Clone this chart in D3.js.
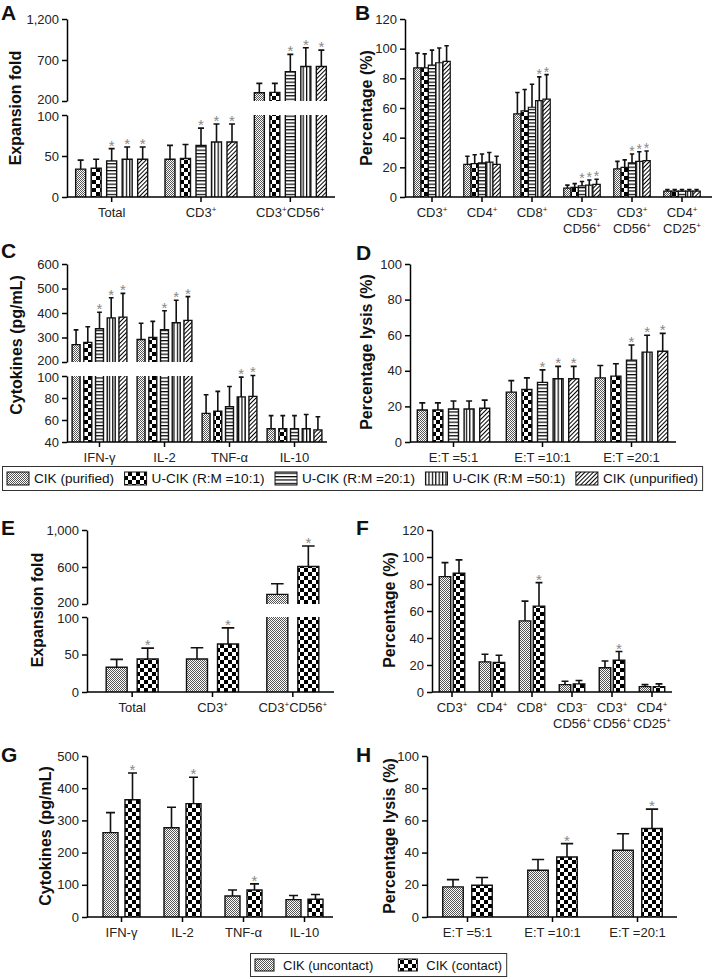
<!DOCTYPE html>
<html><head><meta charset="utf-8">
<script src="https://cdn.jsdelivr.net/npm/d3@7"></script>
<style>
body{margin:0;background:#fff;}
svg text{font-family:"Liberation Sans",Arial,Helvetica,sans-serif;}
</style></head><body>
<svg id="chart" width="713" height="979"></svg>
<script>
// ---------------- DATA ----------------
const topSeries = ["CIK (purified)", "U-CIK (R:M =10:1)", "U-CIK (R:M =20:1)", "U-CIK (R:M =50:1)", "CIK (unpurified)"];
const bottomSeries = ["CIK (uncontact)", "CIK (contact)"];

// Panel A – expansion fold
const catsA = ["Total", "CD3⁺", "CD3⁺CD56⁺"];
const meanA = [[34, 35, 44, 46, 46], [46, 47, 63, 67, 67], [300, 305, 558, 620, 620]];
const sdA   = [[11, 11, 15, 15, 15], [17, 17, 21, 22, 22], [115, 110, 210, 230, 200]];
const sigA  = [[0, 0, 1, 1, 1], [0, 0, 1, 1, 1], [0, 0, 1, 1, 1]];
const ticksA_low = [0, 50, 100], ticksA_high = [200, 700, 1200];

// Panel B – percentage
const catsB = [["CD3⁺"], ["CD4⁺"], ["CD8⁺"], ["CD3⁻", "CD56⁺"], ["CD3⁺", "CD56⁺"], ["CD4⁺", "CD25⁺"]];
const meanB = [[87, 87, 89, 90.5, 91.5], [22, 22.5, 23, 23.5, 22], [56, 58, 60.5, 65, 66], [6, 6.5, 7.5, 8, 8.5], [19, 20, 23, 24, 24.5], [4, 4, 4, 4, 4]];
const sdB   = [[10, 9.5, 10, 10, 10.5], [5.5, 6, 6, 6.5, 5.5], [14.5, 14.5, 15.5, 16, 16.5], [2, 2.5, 3, 3.5, 3.5], [5, 5, 6, 6.5, 6.5], [1, 1, 1, 1, 1]];
const sigB  = [[0, 0, 0, 0, 0], [0, 0, 0, 0, 0], [0, 0, 0, 1, 1], [0, 0, 1, 1, 1], [0, 0, 1, 1, 1], [0, 0, 0, 0, 0]];
const ticksB = [0, 20, 40, 60, 80, 100, 120];

// Panel C – cytokines
const catsC = ["IFN-γ", "IL-2", "TNF-α", "IL-10"];
const meanC = [[271, 280, 336, 380, 383], [292, 300, 332, 360, 370], [66, 68, 72, 81, 81.5], [52, 52, 52, 52, 51]];
const sdC   = [[60, 64, 67, 82, 97], [66, 66, 77, 92, 97], [17, 18, 18.5, 18, 19], [12, 12, 12, 13, 12]];
const sigC  = [[0, 0, 1, 1, 1], [0, 0, 1, 1, 1], [0, 0, 0, 1, 1], [0, 0, 0, 0, 0]];
const ticksC_low = [40, 60, 80, 100], ticksC_high = [200, 300, 400, 500, 600];

// Panel D – lysis
const catsD = ["E:T =5:1", "E:T =10:1", "E:T =20:1"];
const meanD = [[18, 18, 18.5, 18.5, 19], [28, 29.5, 33.5, 35.5, 35.5], [36, 37, 46, 50.5, 51]];
const sdD   = [[4, 4, 4.5, 4.5, 4.5], [6.5, 6.5, 7, 7, 7], [7, 7, 8.5, 9.5, 10]];
const sigD  = [[0, 0, 0, 0, 0], [0, 0, 1, 1, 1], [0, 0, 1, 1, 1]];
const ticksD = [0, 20, 40, 60, 80, 100];

// Panel E – expansion fold (contact)
const catsE = ["Total", "CD3⁺", "CD3⁺CD56⁺"];
const meanE = [[33, 44], [44, 64], [304, 605]];
const sdE   = [[10.5, 14.5], [15, 21.5], [115, 222]];
const sigE  = [[0, 1], [0, 1], [0, 1]];
const ticksE_low = [0, 50, 100], ticksE_high = [200, 600, 1000];

// Panel F – percentage (contact)
const catsF = [["CD3⁺"], ["CD4⁺"], ["CD8⁺"], ["CD3⁻", "CD56⁺"], ["CD3⁺", "CD56⁺"], ["CD4⁺", "CD25⁺"]];
const meanF = [[85.5, 88], [22.3, 21.8], [52.7, 63.6], [5.5, 6], [18, 23.5], [4, 4]];
const sdF   = [[10.3, 9.9], [5.7, 5.4], [14.6, 17.4], [2.5, 2.5], [5, 6.5], [1.5, 2]];
const sigF  = [[0, 0], [0, 0], [0, 1], [0, 0], [0, 1], [0, 0]];
const ticksF = [0, 20, 40, 60, 80, 100, 120];

// Panel G – cytokines (contact)
const catsG = ["IFN-γ", "IL-2", "TNF-α", "IL-10"];
const meanG = [[262, 364], [277, 352], [65, 84], [54, 55]];
const sdG   = [[62, 83], [64, 82], [19, 19], [13, 15]];
const sigG  = [[0, 1], [0, 1], [0, 1], [0, 0]];
const ticksG = [0, 100, 200, 300, 400, 500];

// Panel H – lysis (contact)
const catsH = ["E:T =5:1", "E:T =10:1", "E:T =20:1"];
const meanH = [[18.7, 19.7], [29, 37.3], [41.5, 55]];
const sdH   = [[4.5, 4.8], [6.7, 8.3], [10.2, 12]];
const sigH  = [[0, 0], [0, 1], [0, 1]];
const ticksH = [0, 20, 40, 60, 80, 100];

// ---------------- STYLE ----------------
const topPatterns = ["pFine", "pCheck", "pHoriz", "pVert", "pDiag"];
const bottomPatterns = ["pFine", "pCheck"];

const svg = d3.select("#chart");
const defs = svg.append("defs");

function makePattern(id, w, h, rects, transform) {
  const p = defs.append("pattern").attr("id", id).attr("patternUnits", "userSpaceOnUse")
    .attr("width", w).attr("height", h);
  if (transform) p.attr("patternTransform", transform);
  p.append("rect").attr("width", w).attr("height", h).attr("fill", "#fff");
  rects.forEach(r => p.append("rect").attr("x", r[0]).attr("y", r[1]).attr("width", r[2]).attr("height", r[3]).attr("fill", r[4] || "#000"));
}
makePattern("pFine", 2, 2, [[0, 0, 1, 1, "#555"], [1, 1, 1, 1, "#555"]]);
makePattern("pCheck", 8, 8, [[0, 0, 4, 4], [4, 4, 4, 4]]);
makePattern("pHoriz", 4, 3.4, [[0, 0, 4, 1.2]]);
makePattern("pVert", 3.4, 4, [[0, 0, 1.2, 4]]);
makePattern("pDiag", 3, 3, [[0, 0, 1, 3]], "rotate(45)");

function richText(sel, str, fs) {
  const parts = str.split(/([⁺⁻])/);
  let raised = false;
  parts.forEach(p => {
    if (!p) return;
    if (p === "⁺" || p === "⁻") {
      sel.append("tspan").attr("font-size", fs * 0.62).attr("dy", raised ? 0 : -fs * 0.42).text(p === "⁺" ? "+" : "−");
      raised = true;
    } else {
      sel.append("tspan").attr("dy", raised ? fs * 0.42 : 0).text(p);
      raised = false;
    }
  });
}

function styleAxis(g) {
  g.selectAll("path, line").attr("stroke", "#000").attr("stroke-width", 1.5);
  g.selectAll("text").attr("font-size", 13).attr("fill", "#222")
    .attr("font-family", '"Liberation Sans",Arial,sans-serif');
}

function drawPanel(c) {
  const g = svg.append("g");
  const n = c.mean[0].length;
  const x = d3.scaleBand().domain(d3.range(c.cats.length)).range(c.band);
  const xi = d3.scaleBand().domain(d3.range(n)).range([-c.span / 2, c.span / 2]).paddingInner(c.pad);
  const segs = c.segs.map(s => ({ d: s.d, ticks: s.ticks, y: d3.scaleLinear().domain(s.d).range(s.r) }));
  const bw = xi.bandwidth();

  // bars
  c.mean.forEach((row, gi) => row.forEach((v, si) => {
    const bx = x(gi) + x.bandwidth() / 2 + xi(si);
    segs.forEach(s => {
      if (v <= s.d[0]) return;
      const y0 = s.y(s.d[0]);
      const top = s.y(Math.min(v, s.d[1]));
      g.append("rect").attr("x", bx).attr("y", top).attr("width", bw).attr("height", y0 - top)
        .attr("fill", `url(#${c.pats[si]})`);
      const closed = v <= s.d[1];
      const d = closed
        ? `M${bx},${y0}V${top}H${bx + bw}V${y0}`
        : `M${bx},${y0}V${top}M${bx + bw},${top}V${y0}`;
      g.append("path").attr("d", d).attr("fill", "none").attr("stroke", "#111").attr("stroke-width", c.bstroke || 1.4);
    });
    // error bar
    const seg = segs.find(s => v >= s.d[0] && v <= s.d[1]) || segs[segs.length - 1];
    const cx = bx + bw / 2;
    const yv = seg.y(v), ye = seg.y(v + c.sd[gi][si]);
    const cw = Math.max(4, bw * 0.6);
    g.append("path").attr("d", `M${cx},${yv}V${ye}M${cx - cw / 2},${ye}H${cx + cw / 2}`)
      .attr("stroke", "#111").attr("stroke-width", 1.6).attr("fill", "none");
    if (c.sig[gi][si]) {
      g.append("text").attr("x", cx).attr("y", ye + 2).attr("text-anchor", "middle")
        .attr("font-size", c.astSize || 15).attr("fill", "#888").text("*");
    }
  }));

  // y axes
  segs.forEach((s, k) => {
    const ax = d3.axisLeft(s.y).tickValues(s.ticks).tickFormat(d3.format(",")).tickSize(5).tickSizeOuter(0).tickPadding(3);
    const ga = g.append("g").attr("transform", `translate(${c.ax},0)`).call(ax);
    styleAxis(ga);
    if (segs.length > 1) {
      const edge = k === 0 ? s.d[1] : s.d[0];
      ga.selectAll(".tick").filter(d => d === edge).select("text")
        .attr("transform", `translate(0,${k === 0 ? 1.2 : -1.2})`);
    }
  });
  // x axis
  const xa = d3.axisBottom(x).tickSize(5).tickSizeOuter(0).tickFormat("");
  const gx = g.append("g").attr("transform", `translate(0,${c.y0})`).call(xa);
  gx.select(".domain").attr("d", `M${c.ax},0H${c.axEnd}`);
  styleAxis(gx);
  c.cats.forEach((lab, gi) => {
    const lines = Array.isArray(lab) ? lab : [lab];
    lines.forEach((ln, li) => {
      const t = g.append("text").attr("x", x(gi) + x.bandwidth() / 2).attr("y", c.y0 + 20 + li * 16)
        .attr("text-anchor", "middle").attr("font-size", 13).attr("fill", "#222");
      richText(t, ln, 13);
    });
  });
  // y title
  g.append("text").attr("transform", `translate(${c.tx},${c.ty}) rotate(-90)`).attr("text-anchor", "middle")
    .attr("font-size", 16).attr("font-weight", "bold").attr("fill", "#111").text(c.title);
  // letter
  g.append("text").attr("x", c.lx).attr("y", c.ly).attr("font-size", 21).attr("font-weight", "bold")
    .attr("fill", "#111").text(c.letter);
}

drawPanel({ letter: "A", lx: 1, ly: 20, title: "Expansion fold", tx: 21, ty: 108,
  cats: catsA, mean: meanA, sd: sdA, sig: sigA, pats: topPatterns,
  band: [67, 335], ax: 67, axEnd: 335, y0: 197, span: 72, pad: 0.355,
  segs: [{ d: [0, 100], r: [197, 115], ticks: ticksA_low }, { d: [200, 1200], r: [101, 19], ticks: ticksA_high }] });

drawPanel({ letter: "B", lx: 355, ly: 20, title: "Percentage (%)", tx: 372, ty: 108,
  cats: catsB, mean: meanB, sd: sdB, sig: sigB, pats: topPatterns, bstroke: 1.2, astSize: 14,
  band: [407, 707], ax: 405, axEnd: 712, y0: 197, span: 36.5, pad: 0,
  segs: [{ d: [0, 120], r: [197, 19], ticks: ticksB }] });

drawPanel({ letter: "C", lx: 1, ly: 258, title: "Cytokines (pg/mL)", tx: 22, ty: 345,
  cats: catsC, mean: meanC, sd: sdC, sig: sigC, pats: topPatterns,
  band: [67, 327], ax: 67, axEnd: 327, y0: 442, span: 54.8, pad: 0.32,
  segs: [{ d: [40, 100], r: [442, 376], ticks: ticksC_low }, { d: [200, 600], r: [362, 264], ticks: ticksC_high }] });

drawPanel({ letter: "D", lx: 356, ly: 260, title: "Percentage lysis (%)", tx: 372, ty: 352,
  cats: catsD, mean: meanD, sd: sdD, sig: sigD, pats: topPatterns,
  band: [409, 676], ax: 410, axEnd: 676, y0: 442, span: 72.4, pad: 0.36,
  segs: [{ d: [0, 100], r: [442, 264], ticks: ticksD }] });

drawPanel({ letter: "E", lx: 1, ly: 535, title: "Expansion fold", tx: 43, ty: 610,
  cats: catsE, mean: meanE, sd: sdE, sig: sigE, pats: bottomPatterns,
  band: [92, 333], ax: 87, axEnd: 334, y0: 692, span: 52, pad: 0.323,
  segs: [{ d: [0, 100], r: [692, 617], ticks: ticksE_low }, { d: [200, 1000], r: [604, 530], ticks: ticksE_high }] });

drawPanel({ letter: "F", lx: 356, ly: 535, title: "Percentage (%)", tx: 395, ty: 610,
  cats: catsF, mean: meanF, sd: sdF, sig: sigF, pats: bottomPatterns,
  band: [432, 672], ax: 432, axEnd: 672, y0: 692, span: 25.5, pad: 0.18,
  segs: [{ d: [0, 120], r: [692, 530], ticks: ticksF }] });

drawPanel({ letter: "G", lx: 1, ly: 762, title: "Cytokines (pg/mL)", tx: 51, ty: 836,
  cats: catsG, mean: meanG, sd: sdG, sig: sigG, pats: bottomPatterns,
  band: [91, 335], ax: 87, axEnd: 333, y0: 917, span: 37, pad: 0.318,
  segs: [{ d: [0, 500], r: [917, 756], ticks: ticksG }] });

drawPanel({ letter: "H", lx: 356, ly: 762, title: "Percentage lysis (%)", tx: 395, ty: 836,
  cats: catsH, mean: meanH, sd: sdH, sig: sigH, pats: bottomPatterns,
  band: [425, 680], ax: 427, axEnd: 677, y0: 917, span: 49.5, pad: 0.293,
  segs: [{ d: [0, 100], r: [917, 756], ticks: ticksH }] });

// ---------------- LEGENDS ----------------
function legend(names, pats, x0, y0, h, fs, swW, swH, gapIn, gapOut) {
  const g = svg.append("g");
  const box = g.append("rect").attr("x", x0 + 0.5).attr("y", y0 + 0.5).attr("height", h)
    .attr("fill", "#fff").attr("stroke", "#333").attr("stroke-width", 1);
  let cx = x0 + 5;
  names.forEach((nm, i) => {
    g.append("rect").attr("x", cx).attr("y", y0 + (h - swH) / 2 + 0.5).attr("width", swW).attr("height", swH)
      .attr("fill", `url(#${pats[i]})`).attr("stroke", "#111").attr("stroke-width", 1);
    cx += swW + gapIn;
    const t = g.append("text").attr("x", cx).attr("y", y0 + h / 2 + fs * 0.36 + 0.5).attr("font-size", fs).attr("fill", "#111").text(nm);
    cx += t.node().getComputedTextLength() + (i < names.length - 1 ? gapOut : 0);
  });
  box.attr("width", cx + 4 - x0);
}
legend(topSeries, topPatterns, 2, 466, 24, 13.6, 22, 13, 5, 10.5);
legend(bottomSeries, bottomPatterns, 250, 953, 23, 13, 19, 12, 9, 25);
</script>
</body></html>
